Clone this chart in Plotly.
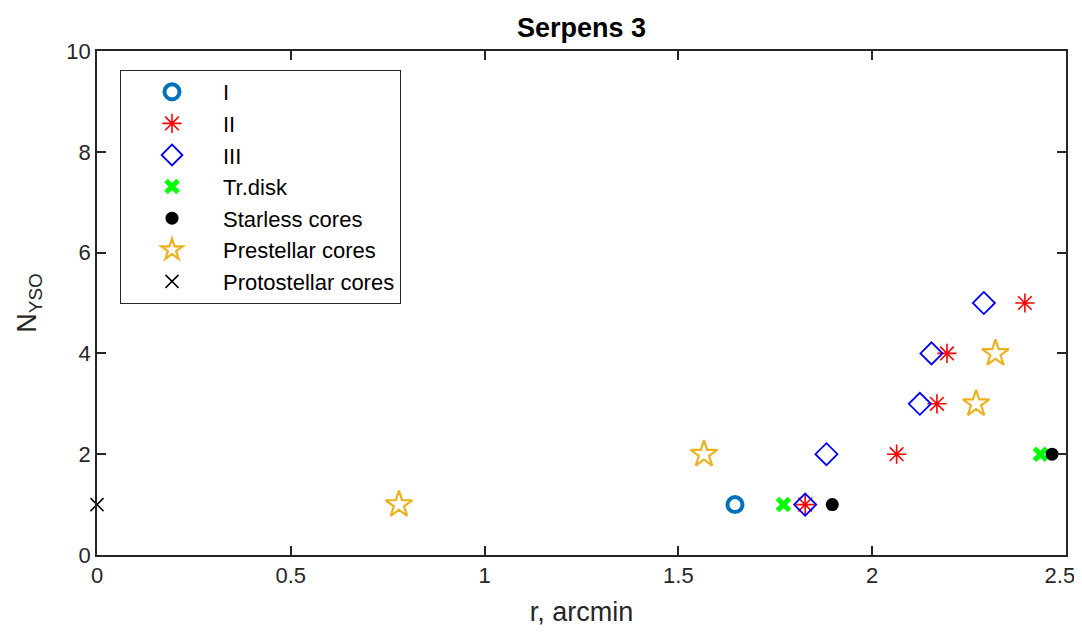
import plotly.graph_objects as go

# Data
class_I_r = [1.646]
class_I_n = [1]
class_II_r = [1.827, 2.063, 2.167, 2.193, 2.394]
class_II_n = [1, 2, 3, 4, 5]
class_III_r = [1.827, 1.882, 2.123, 2.153, 2.288]
class_III_n = [1, 2, 3, 4, 5]
trdisk_r = [1.771, 2.434]
trdisk_n = [1, 2]
starless_r = [1.897, 2.464]
starless_n = [1, 2]
prestellar_r = [0.779, 1.566, 2.268, 2.318]
prestellar_n = [1, 2, 3, 4]
protostellar_r = [0.0]
protostellar_n = [1]
x_ticks = [0, 0.5, 1, 1.5, 2, 2.5]
x_tick_labels = ["0", "0.5", "1", "1.5", "2", "2.5\u00a0\u00a0"]
y_ticks = [0, 2, 4, 6, 8, 10]

FONT = "Liberation Sans, Arial, Helvetica, sans-serif"
AX = "#262626"

# page body has an 8px margin all round; figure sized so that nothing scrolls
W, H = 1074, 619

fig = go.Figure()
fig.add_trace(go.Scatter(x=class_I_r, y=class_I_n, mode="markers", name="I",
                         marker=dict(symbol="circle-open", size=15, color="#0072BD",
                                     line=dict(width=4, color="#0072BD"))))
fig.add_trace(go.Scatter(x=class_II_r, y=class_II_n, mode="markers", name="II",
                         marker=dict(symbol="asterisk-open", size=16, color="#FF0000",
                                     line=dict(width=1.6, color="#FF0000"))))
fig.add_trace(go.Scatter(x=class_III_r, y=class_III_n, mode="markers", name="III",
                         marker=dict(symbol="diamond-open", size=17, color="#0000FF",
                                     line=dict(width=1.8, color="#0000FF"))))
fig.add_trace(go.Scatter(x=trdisk_r, y=trdisk_n, mode="markers", name="Tr.disk",
                         marker=dict(symbol="x-thin-open", size=12, color="#00FF00",
                                     line=dict(width=5, color="#00FF00"))))
fig.add_trace(go.Scatter(x=starless_r, y=starless_n, mode="markers", name="Starless cores",
                         marker=dict(symbol="circle", size=13, color="#000000")))
fig.add_trace(go.Scatter(x=prestellar_r, y=prestellar_n, mode="markers", name="Prestellar cores",
                         marker=dict(symbol="star-open", size=20, color="#EDB120",
                                     line=dict(width=2.2, color="#EDB120"))))
fig.add_trace(go.Scatter(x=protostellar_r, y=protostellar_n, mode="markers", name="Protostellar cores",
                         marker=dict(symbol="x-thin-open", size=13, color="#000000",
                                     line=dict(width=1.5, color="#000000")),
                         cliponaxis=False))

fig.update_layout(
    width=W, height=H,
    margin=dict(l=89, r=16, t=43, b=72),
    paper_bgcolor="white", plot_bgcolor="white",
    font=dict(family=FONT, color=AX, size=22),
    title=dict(text="<b>Serpens 3</b>", x=0.5, xref="paper", xanchor="center",
               y=1 - 20 / H, yanchor="middle", font=dict(size=27, color="#000000")),
    legend=dict(x=23 / 969, y=(555 - 70) / 504, xanchor="left", yanchor="top",
                bordercolor=AX, borderwidth=1, bgcolor="white",
                font=dict(size=22, color="#000000"), itemwidth=92,
                tracegroupgap=0),
    showlegend=True,
)
fig.update_xaxes(range=[0, 2.5], tickvals=x_ticks, ticktext=x_tick_labels,
                 ticks="inside", ticklen=9, tickwidth=1.5, tickcolor=AX,
                 showline=True, linecolor=AX, linewidth=1.5, mirror="ticks",
                 showgrid=False, zeroline=False, automargin=False,
                 ticklabeloverflow="allow",
                 title=dict(text="r, arcmin", font=dict(size=27), standoff=38),
                 tickfont=dict(size=22))
fig.update_yaxes(range=[0, 10], tickvals=y_ticks,
                 ticks="inside", ticklen=9, tickwidth=1.5, tickcolor=AX,
                 showline=True, linecolor=AX, linewidth=1.5, mirror="ticks",
                 showgrid=False, zeroline=False, automargin=False,
                 ticklabeloverflow="allow",
                 title=dict(text="N<sub>YSO</sub>", font=dict(size=27), standoff=22),
                 tickfont=dict(size=22))

fig.write_html("out.html")
